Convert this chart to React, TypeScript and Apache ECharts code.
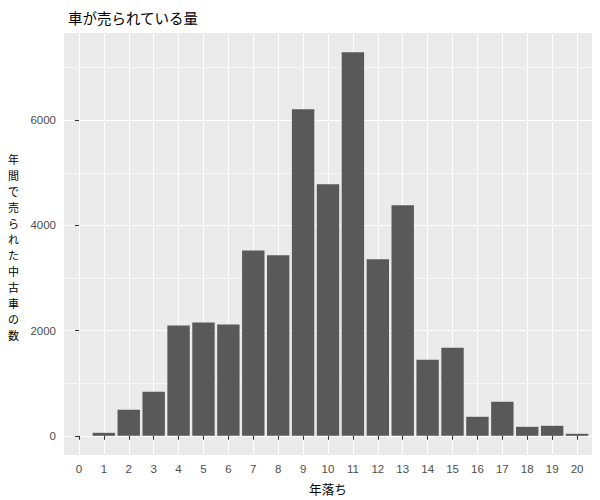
import { useEffect, useRef } from "react";
import * as echarts from "echarts";

const ages = [0, 1, 2, 3, 4, 5, 6, 7, 8, 9, 10, 11, 12, 13, 14, 15, 16, 17, 18, 19, 20];
const carsSold = [0, 57, 495, 838, 2095, 2153, 2115, 3524, 3431, 6207, 4781, 7292, 3354, 4382, 1448, 1676, 362, 648, 171, 190, 38];
const majorTicks = [0, 2000, 4000, 6000];
const minorTicks = [1000, 3000, 5000, 7000];

const chartTitle = "車が売られている量";
const xTitle = "年落ち";
const yTitle = "年間で売られた中古車の数";

const latinFont = "'Liberation Sans', Arial, 'Noto Sans CJK JP', sans-serif";
const cjkFont = "'Noto Sans CJK JP', 'Noto Sans', sans-serif";

export default function App() {
  const chartRef = useRef<HTMLDivElement>(null);

  useEffect(() => {
    if (!chartRef.current) {
      return undefined;
    }

    const chart = echarts.init(chartRef.current, undefined, { renderer: "svg" });
    // ggplot-like expansion: 5% on the value axis, 0.6 units on the discrete axis
    const maxCount = Math.max(...carsSold);
    const yMin = -0.05 * maxCount;
    const yMax = 1.05 * maxCount;
    const xMin = ages[0] - 0.6;
    const xMax = ages[ages.length - 1] + 0.6;

    chart.setOption({
      animation: false,
      title: {
        text: chartTitle,
        left: 63,
        top: 5,
        textStyle: { color: "#000000", fontSize: 14.5, fontWeight: "normal", fontFamily: cjkFont },
      },
      grid: {
        left: 64,
        right: 8,
        top: 33,
        bottom: 45,
        show: true,
        backgroundColor: "#EBEBEB",
        borderWidth: 0,
      },
      graphic: [
        {
          // stacked one character per line, as in the original y title
          type: "text",
          x: 13.5,
          y: 247,
          style: {
            text: yTitle.split("").join("\n"),
            fill: "#000000",
            fontSize: 11,
            lineHeight: 16,
            fontFamily: cjkFont,
            textAlign: "center",
            textVerticalAlign: "middle",
          },
        },
      ],
      xAxis: {
        type: "value",
        min: xMin,
        max: xMax,
        name: xTitle,
        nameLocation: "middle",
        nameGap: 27,
        nameTextStyle: { color: "#000000", fontSize: 12.6, fontFamily: cjkFont },
        axisLine: { show: false },
        axisTick: { show: true, length: 4, customValues: ages, lineStyle: { color: "#333333" } },
        axisLabel: { customValues: ages, color: "#4D4D4D", fontSize: 11.5, margin: 8, fontFamily: latinFont },
        splitLine: { show: true, lineStyle: { color: "#FFFFFF", width: 1.1 } },
      },
      yAxis: [
        {
          type: "value",
          min: yMin,
          max: yMax,
          axisLine: { show: false },
          axisTick: { show: true, length: 4, customValues: majorTicks, lineStyle: { color: "#333333" } },
          axisLabel: {
            customValues: majorTicks,
            formatter: (value: number) => String(value),
            color: "#4D4D4D",
            fontSize: 11.5,
            margin: 8,
            fontFamily: latinFont,
          },
          splitLine: { show: true, lineStyle: { color: "#FFFFFF", width: 1.1 } },
        },
        {
          type: "value",
          min: yMin,
          max: yMax,
          axisLine: { show: false },
          axisTick: { show: false, customValues: minorTicks },
          axisLabel: { show: false },
          splitLine: { show: true, lineStyle: { color: "#FFFFFF", width: 0.6 } },
        },
      ],
      series: [
        {
          type: "bar",
          yAxisIndex: 0,
          barWidth: 22.4,
          itemStyle: { color: "#595959" },
          data: ages.map((age, index) => [age, carsSold[index]]),
        },
      ],
    });

    return () => {
      chart.dispose();
    };
  }, []);

  return (
    <div
      ref={chartRef}
      style={{ position: "fixed", left: 0, top: 0, width: 600, height: 500, background: "#FFFFFF" }}
    />
  );
}
